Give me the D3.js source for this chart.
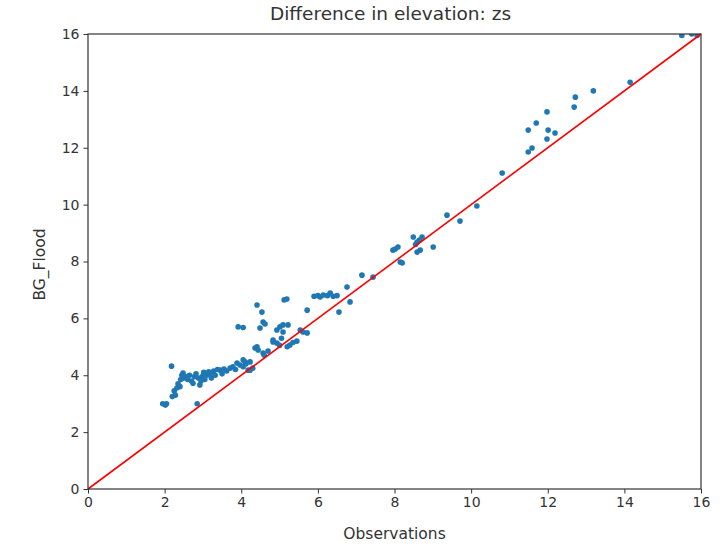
<!DOCTYPE html>
<html>
<head>
<meta charset="utf-8">
<script src="https://cdn.jsdelivr.net/npm/d3@7"></script>
<style>
  html, body { margin: 0; padding: 0; background: #fff; }
  svg { display: block; font-family: "DejaVu Sans", sans-serif; }
</style>
</head>
<body>
<svg id="chart" width="722" height="545"></svg>
<script>
// Observed water surface elevation (zs) and the BG_Flood model value at each gauge
const observations = [
  1.95, 2.05, 2.02, 2.85, 2.18, 2.2, 2.25, 2.28, 2.32, 2.35, 2.4, 2.42, 2.45, 2.48, 2.5, 2.55,
  2.6, 2.65, 2.7, 2.74, 2.78, 2.82, 2.88, 2.92, 2.95, 2.98, 3.02, 3.05, 3.1, 3.15, 3.19, 3.22,
  3.28, 3.32, 3.38, 3.45, 3.5, 3.55, 3.62, 3.71, 3.78, 3.85, 3.89, 3.97, 4.05, 4.1, 4.12, 4.23,
  4.3, 4.18, 4.05,
  3.92, 4.05, 4.41, 4.54, 4.49, 4.57, 4.62, 5.01, 5.09, 5.22, 5.19, 5.12, 4.93, 5.09, 5.54, 5.61,
  5.72, 5.72, 4.41, 4.36, 4.44, 4.57, 4.7, 4.83, 4.83, 4.93, 5.0, 5.2, 5.27, 5.35, 5.45, 5.05,
  4.6, 4.23,
  5.9, 6.0, 6.06, 6.14, 6.25, 6.32, 6.4, 6.5, 6.76, 6.84, 6.55, 7.15, 7.44,
  7.96, 8.02, 8.09, 8.15, 8.2, 8.59, 8.49, 8.72, 8.59, 8.67, 9.01, 8.55, 8.65, 9.37, 9.71, 10.15,
  10.81,
  11.49, 11.59, 11.98, 12.19, 12.01, 11.49, 11.7, 11.98, 12.69, 12.72, 13.19, 14.15,
  15.5, 15.76, 15.9
];
const modelled = [
  3.0, 3.0, 2.95, 3.0, 4.32, 3.25, 3.45, 3.3, 3.55, 3.7, 3.6, 3.85, 4.0, 4.08, 3.9, 3.95,
  3.85, 4.0, 3.8, 3.72, 3.95, 4.05, 3.9, 3.66, 3.8, 3.95, 4.1, 3.85, 4.0, 4.12, 4.05, 3.9,
  4.15, 4.0, 4.2, 4.18, 4.05, 4.22, 4.15, 4.25, 4.3, 4.2, 4.43, 4.36, 4.3, 4.47, 4.4, 4.47,
  4.25, 4.18, 4.54,
  5.7, 5.68, 6.47, 6.22, 5.66, 5.87, 5.8, 5.7, 5.77, 5.77, 6.68, 6.65, 5.59, 5.52, 5.59, 5.52,
  5.49, 6.29, 5.0, 4.96, 4.89, 4.78, 4.85, 5.17, 5.24, 5.13, 5.05, 5.0, 5.06, 5.15, 5.2, 5.3,
  4.7, 4.18,
  6.78, 6.8, 6.75, 6.82, 6.8, 6.89, 6.78, 6.8, 7.1, 6.58, 6.22, 7.52, 7.45,
  8.4, 8.44, 8.51, 7.98, 7.95, 8.33, 8.86, 8.86, 8.68, 8.4, 8.51, 8.6, 8.75, 9.63, 9.42, 9.95,
  11.11,
  11.85, 11.99, 12.31, 12.52, 12.62, 12.62, 12.87, 13.26, 13.43, 13.78, 14.0, 14.3,
  15.95, 16.0, 15.95
];
const xTicks = [0, 2, 4, 6, 8, 10, 12, 14, 16];
const yTicks = [0, 2, 4, 6, 8, 10, 12, 14, 16];
const identityLine = [0, 16];

const svg = d3.select("#chart");
const width = 722, height = 545;
const margin = { top: 34, right: 21, bottom: 56, left: 88 };
const innerW = width - margin.left - margin.right;
const innerH = height - margin.top - margin.bottom;

const x = d3.scaleLinear().domain([0, 16]).range([0, innerW]);
const y = d3.scaleLinear().domain([0, 16]).range([innerH, 0]);

svg.append("rect").attr("width", width).attr("height", height).attr("fill", "#fff");

const g = svg.append("g").attr("transform", `translate(${margin.left},${margin.top})`);

g.append("clipPath").attr("id", "plot-clip")
  .append("rect").attr("width", innerW).attr("height", innerH);

// scatter of model against observations
const points = observations.map((o, i) => ({ o, m: modelled[i] }));
g.append("g").attr("clip-path", "url(#plot-clip)")
  .selectAll("circle").data(points).join("circle")
  .attr("cx", d => x(d.o))
  .attr("cy", d => y(d.m))
  .attr("r", 2.8)
  .attr("fill", "#1f77b4");

// 1:1 reference line
g.append("line")
  .attr("x1", x(identityLine[0])).attr("y1", y(identityLine[0]))
  .attr("x2", x(identityLine[1])).attr("y2", y(identityLine[1]))
  .attr("stroke", "#ff0000").attr("stroke-width", 1.6);

// axes
const xAxis = g.append("g").attr("transform", `translate(0,${innerH})`)
  .call(d3.axisBottom(x).tickValues(xTicks).tickFormat(d3.format("d")).tickSize(4.5).tickPadding(4));
const yAxis = g.append("g")
  .call(d3.axisLeft(y).tickValues(yTicks).tickFormat(d3.format("d")).tickSize(4.5).tickPadding(4));
[xAxis, yAxis].forEach(a => {
  a.select(".domain").remove();
  a.selectAll("text").attr("font-size", 14).attr("fill", "#333").attr("font-family", "DejaVu Sans, sans-serif");
  a.selectAll("line").attr("stroke", "#333");
});

// frame
g.append("rect").attr("width", innerW).attr("height", innerH)
  .attr("fill", "none").attr("stroke", "#333").attr("stroke-width", 1.2);

// labels
svg.append("text")
  .attr("x", margin.left + innerW / 2 - 4).attr("y", 20)
  .attr("text-anchor", "middle").attr("font-size", 18.5).attr("fill", "#333")
  .text("Difference in elevation: zs");
svg.append("text")
  .attr("x", margin.left + innerW / 2).attr("y", 539)
  .attr("text-anchor", "middle").attr("font-size", 15.5).attr("fill", "#333")
  .text("Observations");
svg.append("text")
  .attr("transform", `translate(45,${margin.top + innerH / 2 + 3}) rotate(-90)`)
  .attr("text-anchor", "middle").attr("font-size", 15.5).attr("fill", "#333")
  .text("BG_Flood");
</script>
</body>
</html>
